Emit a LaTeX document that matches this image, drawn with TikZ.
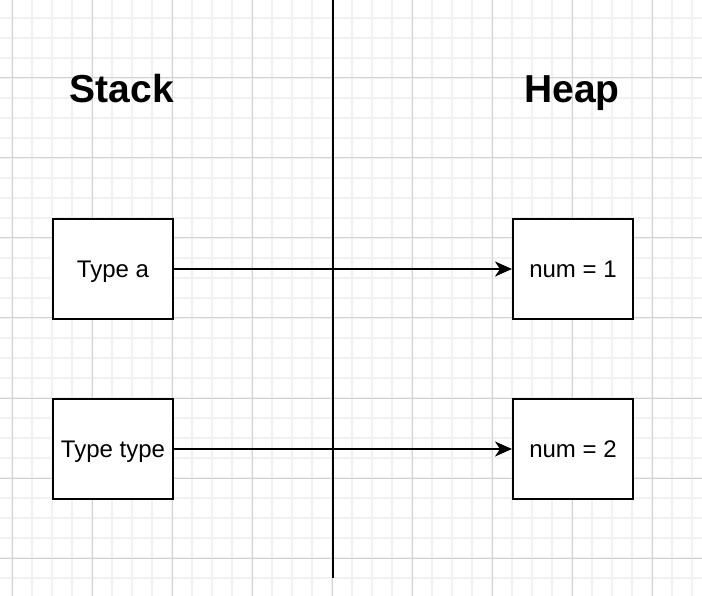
\documentclass[tikz,border=0pt]{standalone}
\usepackage{fontspec}
\setmainfont{Liberation Sans}
\usetikzlibrary{arrows.meta}
\definecolor{gridminor}{HTML}{F1F1F1}
\definecolor{gridmajor}{HTML}{D2D2D2}
\begin{document}
\begin{tikzpicture}[x=1pt,y=-1pt,
  cell/.style={draw=black,line width=2pt,fill=white,minimum width=120pt,minimum height=100pt,
    inner sep=0pt,text height=17pt,text depth=0pt,font=\fontsize{24}{28}\selectfont},
  title/.style={inner sep=0pt,text height=28pt,text depth=0pt,font=\fontsize{39}{45}\selectfont\bfseries},
  link/.style={line width=2pt,-{Stealth[length=17pt,width=15pt,inset=5pt]}},
  divider/.style={line width=2pt}]
  \useasboundingbox (0,0) rectangle (702,596);
  \fill[white] (0,0) rectangle (702,596);
  % background grid: fine lines every 20pt, heavier lines every 80pt
  \foreach \x in {12,32,...,692} \draw[gridminor,line width=1.5pt] (\x,0) -- (\x,596);
  \foreach \y in {18,38,...,596} \draw[gridminor,line width=1.5pt] (0,\y) -- (702,\y);
  \foreach \x in {12,92,...,692} \draw[gridmajor,line width=1pt] (\x,0) -- (\x,596);
  \foreach \y in {78,158,...,596} \draw[gridmajor,line width=1pt] (0,\y) -- (702,\y);
  % stack / heap separator
  \coordinate (sepTop) at (333,0);
  \coordinate (sepBot) at (333,578);
  \draw[divider] (sepTop) -- (sepBot);
  % headings
  \node[title] (stack) at (122,89) {Stack};
  \node[title] (heap) at (572,89) {Heap};
  % stack cells
  \node[cell] (a) at (113,269) {Type a};
  \node[cell] (t) at (113,449) {Type type};
  % heap cells
  \node[cell] (n1) at (573,269) {num = 1};
  \node[cell] (n2) at (573,449) {num = 2};
  % references
  \draw[link] (a) -- (n1);
  \draw[link] (t) -- (n2);
\end{tikzpicture}
\end{document}
